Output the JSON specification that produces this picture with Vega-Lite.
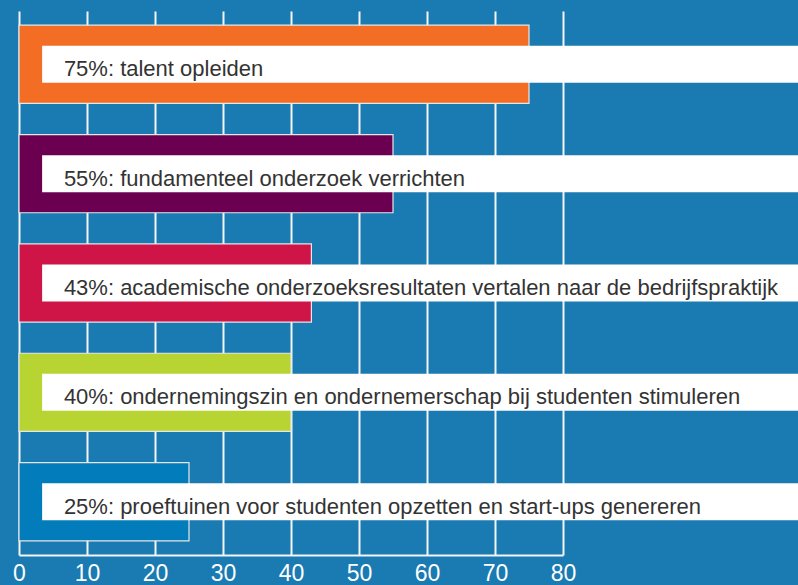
{
  "$schema": "https://vega.github.io/schema/vega-lite/v6.json",
  "width": 544,
  "height": 544,
  "autosize": "none",
  "padding": {"left": 19, "top": 11, "right": 235, "bottom": 30},
  "background": "#1a7ab2",
  "config": {
    "view": {"stroke": null, "fill": "#1a7ab2"},
    "font": "Liberation Sans"
  },
  "data": {
    "values": [
      {"cat": "talent", "pct": 75, "label": "75%: talent opleiden"},
      {"cat": "fundamenteel", "pct": 55, "label": "55%: fundamenteel onderzoek verrichten"},
      {"cat": "academisch", "pct": 43, "label": "43%: academische onderzoeksresultaten vertalen naar de bedrijfspraktijk"},
      {"cat": "ondernemingszin", "pct": 40, "label": "40%: ondernemingszin en ondernemerschap bij studenten stimuleren"},
      {"cat": "proeftuinen", "pct": 25, "label": "25%: proeftuinen voor studenten opzetten en start-ups genereren"}
    ]
  },
  "encoding": {
    "y": {
      "field": "cat",
      "type": "nominal",
      "sort": null,
      "scale": {"paddingInner": 0.285, "paddingOuter": 0.13},
      "axis": null
    }
  },
  "layer": [
    {
      "mark": {"type": "bar", "stroke": "#e6e6e6", "strokeWidth": 1.2},
      "encoding": {
        "x": {
          "field": "pct",
          "type": "quantitative",
          "scale": {"domain": [0, 80], "nice": false},
          "axis": {
            "values": [0, 10, 20, 30, 40, 50, 60, 70, 80],
            "grid": true,
            "gridColor": "#f4f4f4",
            "gridWidth": 2,
            "gridOpacity": 1,
            "domainColor": "#f4f4f4",
            "domainWidth": 2,
            "ticks": false,
            "labelColor": "#ffffff",
            "labelFontSize": 23,
            "labelFont": "Liberation Sans",
            "labelPadding": 7,
            "labelFlush": false,
            "title": null
          }
        },
        "color": {
          "field": "cat",
          "type": "nominal",
          "scale": {
            "domain": ["talent", "fundamenteel", "academisch", "ondernemingszin", "proeftuinen"],
            "range": ["#f36e24", "#6b0051", "#cf1448", "#b8d433", "#027cba"]
          },
          "legend": null
        }
      }
    },
    {
      "mark": {"type": "bar", "color": "#ffffff", "height": 37},
      "encoding": {
        "x": {"datum": 3.4, "type": "quantitative"},
        "x2": {"datum": 116}
      }
    },
    {
      "mark": {
        "type": "text",
        "align": "left",
        "baseline": "alphabetic",
        "dx": 0,
        "dy": 12,
        "fontSize": 22,
        "font": "Liberation Sans",
        "color": "#333333"
      },
      "encoding": {
        "x": {"datum": 6.6, "type": "quantitative"},
        "text": {"field": "label"}
      }
    }
  ]
}
